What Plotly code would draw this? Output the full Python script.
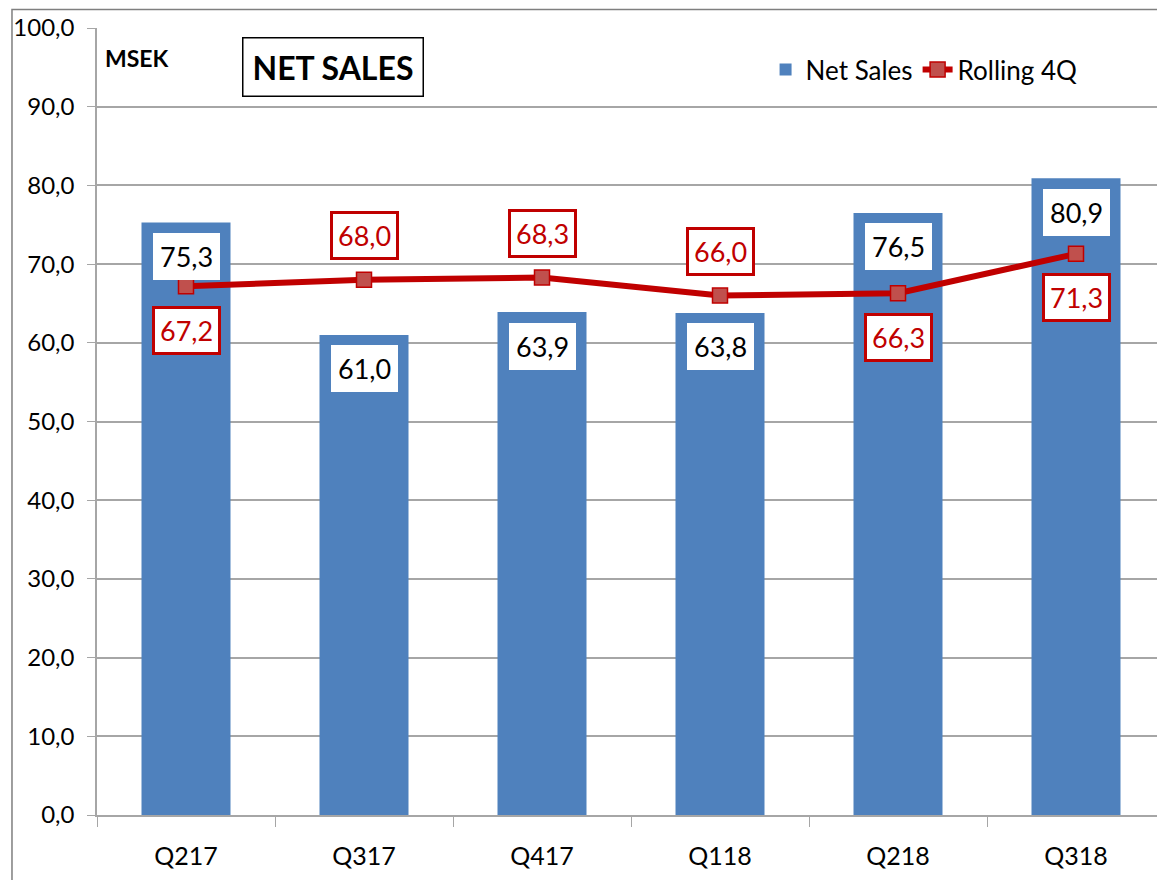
import plotly.graph_objects as go

quarters = ["Q217", "Q317", "Q417", "Q118", "Q218", "Q318"]
net_sales = [75.3, 61.0, 63.9, 63.8, 76.5, 80.9]
rolling_4q = [67.2, 68.0, 68.3, 66.0, 66.3, 71.3]

# where the rolling labels sit relative to the marker
rolling_label_side = ["below", "above", "above", "above", "below", "below"]

FONT = "Lato, Open Sans, sans-serif"
BLUE = "#4F81BD"
RED = "#C00000"
GRID = "#A6A6A6"


def fmt(v):
    return f"{v:.1f}".replace(".", ",")


fig = go.Figure()

fig.add_trace(go.Bar(
    x=quarters, y=net_sales, name="Net Sales",
    marker=dict(color=BLUE, line=dict(width=0)),
    width=0.5,
))

fig.add_trace(go.Scatter(
    x=quarters, y=rolling_4q, name="Rolling 4Q",
    mode="lines+markers",
    line=dict(color=RED, width=6),
    marker=dict(symbol="square", size=15, color="#C0504D",
                line=dict(color=RED, width=1.5)),
))

# value labels in boxes
for q, v in zip(quarters, net_sales):
    fig.add_annotation(
        x=q, y=v, text=fmt(v),
        showarrow=False, yshift=-34,
        font=dict(family=FONT, size=27, color="black"),
        bgcolor="white", borderpad=7, borderwidth=0,
    )

for q, v, side in zip(quarters, rolling_4q, rolling_label_side):
    fig.add_annotation(
        x=q, y=v, text=fmt(v),
        showarrow=False, yshift=44 if side == "above" else -44,
        font=dict(family=FONT, size=27, color=RED),
        bgcolor="white", bordercolor=RED, borderwidth=3, borderpad=5,
    )

# title / unit
fig.add_annotation(
    xref="paper", yref="paper", x=0.221, y=0.950,
    xanchor="center", yanchor="middle",
    text="<b>NET SALES</b>", showarrow=False,
    font=dict(family=FONT, size=32, color="black"),
    bgcolor="white", bordercolor="black", borderwidth=1.5, borderpad=9,
)
fig.add_annotation(
    xref="paper", yref="paper", x=0.0056, y=0.962,
    xanchor="left", yanchor="middle",
    text="<b>MSEK</b>", showarrow=False,
    font=dict(family=FONT, size=23, color="black"),
)

# chart frame
fig.add_shape(
    type="rect", xref="paper", yref="paper",
    x0=-0.0796, x1=1.02, y0=-0.2, y1=1.0235,
    line=dict(color="#7F7F7F", width=1.5), layer="below",
)

# the page adds an 8px body margin, so the figure is 8px smaller
fig.update_layout(
    width=1157, height=872,
    margin=dict(l=89, r=0, t=20, b=65),
    plot_bgcolor="white", paper_bgcolor="white",
    separators=",.",
    font=dict(family=FONT, size=22, color="black"),
    showlegend=True,
    legend=dict(
        orientation="h", x=0.626, y=0.947, xanchor="left", yanchor="middle",
        font=dict(family=FONT, size=26), bgcolor="rgba(0,0,0,0)",
        itemwidth=30, tracegroupgap=0,
    ),
    xaxis=dict(
        type="category", tickson="boundaries", ticks="outside", ticklen=10,
        tickcolor=GRID, showline=True, linecolor=GRID, linewidth=1.5,
        showgrid=False, tickfont=dict(size=25), ticklabelstandoff=18,
    ),
    yaxis=dict(
        range=[0, 100], dtick=10, tickformat=".1f",
        ticks="outside", ticklen=8, tickcolor=GRID,
        showline=True, linecolor=GRID, linewidth=1.5,
        showgrid=True, gridcolor=GRID, gridwidth=1.5,
        zeroline=False, tickfont=dict(size=24), ticklabelstandoff=8,
    ),
    bargap=0.5,
)

fig.write_html("out.html")
